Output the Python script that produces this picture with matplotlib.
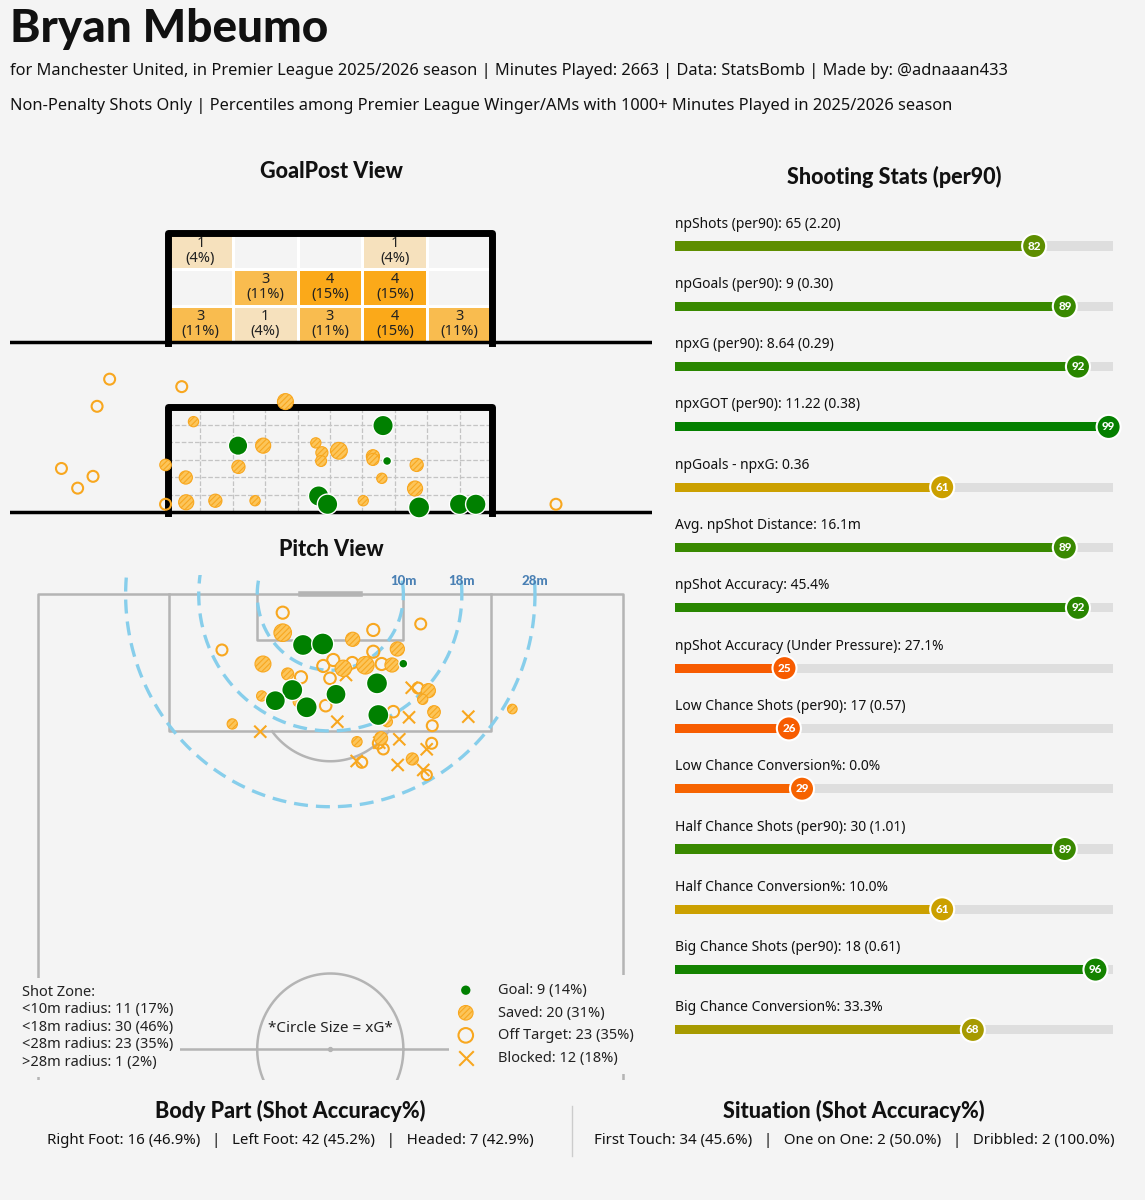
import matplotlib
matplotlib.use('Agg')
import matplotlib.pyplot as plt
import numpy as np
from matplotlib.colors import LinearSegmentedColormap
from matplotlib.lines import Line2D

# ---------------- DATA ----------------
player = "Bryan Mbeumo"
subtitle1 = ("for Manchester United, in Premier League 2025/2026 season | Minutes Played: 2663 | "
             "Data: StatsBomb | Made by: @adnaaan433")
subtitle2 = ("Non-Penalty Shots Only | Percentiles among Premier League Winger/AMs with 1000+ "
             "Minutes Played in 2025/2026 season")

# goal-mouth heatmap (rows: top, middle, bottom ; cols: left -> right)
goal_counts = [[1, 0, 0, 1, 0],
               [0, 3, 4, 4, 0],
               [3, 1, 3, 4, 3]]

# shots on the goal-mouth view (goal y: 36-44, height z: 0-2.67)
gm_goal_y = [37.73, 39.72, 39.94, 41.31, 41.41, 42.20, 43.20, 43.60]
gm_goal_z = [1.69, 0.41, 0.20, 2.20, 1.30, 0.12, 0.20, 0.20]
gm_goal_xg = [0.25, 0.28, 0.28, 0.28, 0.03, 0.30, 0.28, 0.28]

gm_saved_y = [38.90, 36.63, 38.35, 35.94, 37.74, 36.44, 36.45, 37.17, 38.15, 39.65,
              39.80, 39.78, 40.22, 41.06, 41.06, 42.14, 41.28, 42.10, 40.82]
gm_saved_z = [2.81, 2.30, 1.69, 1.20, 1.15, 0.88, 0.25, 0.29, 0.29, 1.76,
              1.51, 1.30, 1.56, 1.42, 1.34, 1.20, 0.86, 0.60, 0.29]
gm_saved_xg = [0.16, 0.05, 0.14, 0.07, 0.10, 0.10, 0.14, 0.10, 0.05, 0.05,
               0.08, 0.06, 0.18, 0.10, 0.08, 0.10, 0.05, 0.14, 0.05]

gm_off_y = [34.56, 36.34, 34.25, 33.37, 34.15, 33.77, 35.94, 45.58]
gm_off_z = [3.38, 3.19, 2.69, 1.11, 0.91, 0.61, 0.20, 0.20]
gm_off_xg = [0.06, 0.06, 0.06, 0.06, 0.06, 0.06, 0.06, 0.06]

# shots on the pitch (StatsBomb coords: x across 0-80, y along 0-120)
p_goal_x = [36.27, 38.96, 49.99, 46.39, 34.80, 40.78, 32.48, 36.77, 46.57]
p_goal_y = [113.34, 113.47, 110.87, 108.28, 107.40, 106.83, 105.99, 105.12, 104.10]
p_goal_xg = [0.30, 0.33, 0.03, 0.30, 0.30, 0.27, 0.27, 0.30, 0.30]

p_saved_x = [33.49, 43.06, 49.17, 30.79, 41.78, 44.79, 48.44, 34.17, 30.62, 53.41,
             52.64, 54.19, 47.80, 26.59, 43.65, 46.94, 51.22, 64.90, 35.62]
p_saved_y = [114.96, 114.09, 112.81, 110.83, 110.26, 110.66, 110.70, 109.51, 106.61, 107.31,
             106.17, 104.50, 103.22, 102.92, 100.58, 101.03, 98.30, 104.89, 105.86]
p_saved_xg = [0.20, 0.12, 0.12, 0.16, 0.17, 0.20, 0.12, 0.08, 0.05, 0.12,
              0.05, 0.09, 0.05, 0.05, 0.05, 0.10, 0.08, 0.04, 0.05]

p_off_x = [33.49, 45.88, 52.37, 25.18, 45.88, 39.04, 40.41, 43.01, 47.03, 35.99,
           39.96, 39.37, 48.62, 53.95, 53.87, 46.57, 47.25, 44.30, 53.19, 52.00]
p_off_y = [117.60, 115.32, 116.11, 112.68, 112.45, 110.57, 111.36, 111.00, 110.83, 109.08,
           108.94, 105.33, 104.54, 102.69, 100.37, 100.37, 99.62, 97.86, 96.19, 107.66]
p_off_xg = [0.08, 0.08, 0.06, 0.06, 0.08, 0.08, 0.08, 0.07, 0.08, 0.08,
            0.07, 0.07, 0.07, 0.06, 0.06, 0.06, 0.06, 0.06, 0.05, 0.06]

p_block_x = [42.15, 51.14, 50.77, 58.88, 40.96, 30.42, 49.44, 46.70, 53.19, 43.61, 49.22, 52.72]
p_block_y = [109.38, 107.70, 103.80, 103.88, 103.22, 101.90, 100.90, 100.45, 99.58, 98.03, 97.51, 96.85]
p_block_xg = [0.08] * 12

zone_radii = [10, 18, 28]
zone_text = ["Shot Zone:", "<10m radius: 11 (17%)", "<18m radius: 30 (46%)",
             "<28m radius: 23 (35%)", ">28m radius: 1 (2%)"]
legend_labels = ["Goal: 9 (14%)", "Saved: 20 (31%)", "Off Target: 23 (35%)", "Blocked: 12 (18%)"]

stat_labels = ["npShots (per90): 65 (2.20)", "npGoals (per90): 9 (0.30)",
               "npxG (per90): 8.64 (0.29)", "npxGOT (per90): 11.22 (0.38)",
               "npGoals - npxG: 0.36", "Avg. npShot Distance: 16.1m",
               "npShot Accuracy: 45.4%", "npShot Accuracy (Under Pressure): 27.1%",
               "Low Chance Shots (per90): 17 (0.57)", "Low Chance Conversion%: 0.0%",
               "Half Chance Shots (per90): 30 (1.01)", "Half Chance Conversion%: 10.0%",
               "Big Chance Shots (per90): 18 (0.61)", "Big Chance Conversion%: 33.3%"]
stat_pcts = [82, 89, 92, 99, 61, 89, 92, 25, 26, 29, 89, 61, 96, 68]

body_text = "Right Foot: 16 (46.9%)   |   Left Foot: 42 (45.2%)   |   Headed: 7 (42.9%)"
situ_text = "First Touch: 34 (45.6%)   |   One on One: 2 (50.0%)   |   Dribbled: 2 (100.0%)"

# ---------------- STYLE ----------------
W, H = 1145, 1200
BG = '#f4f4f4'
TFONT = 'Lato'
BFONT = 'Noto Sans'
ORANGE = '#f8a71f'
SAVED_FC = '#fcc55a'
GREEN = '#008000'
plt.rcParams['font.family'] = [BFONT, 'DejaVu Sans']
plt.rcParams['hatch.linewidth'] = 0.8

fig = plt.figure(figsize=(W / 100, H / 100), dpi=100, facecolor=BG)


def fy(y):
    return 1 - y / H


def add_ax(x0, y0, x1, y1):
    ax = fig.add_axes([x0 / W, 1 - y1 / H, (x1 - x0) / W, (y1 - y0) / H])
    ax.set_facecolor('none')
    ax.axis('off')
    return ax


def xg_size(v):
    return 20 + 700 * np.asarray(v)


# ---------------- HEADER ----------------
fig.text(10 / W, fy(29), player, fontsize=33, fontweight='black', family=TFONT,
         va='center', ha='left', color='#111111')
fig.text(10 / W, fy(71), subtitle1, fontsize=11.8, va='center', ha='left', color='#111111')
fig.text(10 / W, fy(106), subtitle2, fontsize=11.8, va='center', ha='left', color='#111111')

for txt, x, y in [("GoalPost View", 331, 172), ("Pitch View", 331, 550),
                  ("Shooting Stats (per90)", 894, 177),
                  ("Body Part (Shot Accuracy%)", 290, 1111),
                  ("Situation (Shot Accuracy%)", 854, 1111)]:
    fig.text(x / W, fy(y), txt, fontsize=15.5, fontweight='black', family=TFONT,
             ha='center', va='center', color='#111111')

# ---------------- GOAL HEATMAP ----------------
XL = (32.10, 47.95)
ax1 = add_ax(10, 215, 652, 350)
ax1.set_xlim(*XL)
ax1.set_ylim(-0.195, 3.10)
counts = np.array(goal_counts)
total = counts.sum()
cmap_h = LinearSegmentedColormap.from_list('h', [BG, '#fba919'])
xe = np.linspace(36, 44, counts.shape[1] + 1)
ze = np.linspace(0, 2.67, counts.shape[0] + 1)
ax1.pcolormesh(xe, ze, counts[::-1], cmap=cmap_h, vmin=0, vmax=counts.max(),
               edgecolors='white', linewidth=0.8, zorder=1)
for r in range(counts.shape[0]):
    for c in range(counts.shape[1]):
        v = counts[r, c]
        if v > 0:
            zc = (ze[counts.shape[0] - r] + ze[counts.shape[0] - r - 1]) / 2
            xc = (xe[c] + xe[c + 1]) / 2
            ax1.text(xc, zc, f"{v}\n({v / total * 100:.0f}%)", ha='center', va='center',
                     fontsize=10.5, color='#222222', linespacing=1.0, zorder=3)
ax1.plot([36, 36, 44, 44], [-0.03, 2.67, 2.67, -0.03], color='black', lw=5,
         solid_joinstyle='round', zorder=4)
ax1.plot(XL, [0, 0], color='black', lw=2.5, zorder=4)

# ---------------- GOAL SHOT MAP ----------------
ax2 = add_ax(10, 365, 652, 520)
ax2.set_xlim(*XL)
ax2.set_ylim(-0.20, 3.74)
for k in range(1, 10):
    ax2.plot([36 + 0.8 * k] * 2, [0, 2.67], ls='--', color='#c4c4c4', lw=0.9, zorder=1)
for k in range(1, 6):
    ax2.plot([36, 44], [k * 2.67 / 6] * 2, ls='--', color='#c4c4c4', lw=0.9, zorder=1)
ax2.plot([36, 36, 44, 44], [-0.03, 2.67, 2.67, -0.03], color='black', lw=5,
         solid_joinstyle='round', zorder=2)
ax2.plot(XL, [0, 0], color='black', lw=2.5, zorder=2)
ax2.scatter(gm_off_y, gm_off_z, s=xg_size(gm_off_xg), facecolor='none', edgecolor=ORANGE,
            lw=1.5, zorder=3)
ax2.scatter(gm_saved_y, gm_saved_z, s=xg_size(gm_saved_xg), facecolor=SAVED_FC,
            edgecolor=ORANGE, hatch='//////', lw=0.8, zorder=4)
ax2.scatter(gm_goal_y, gm_goal_z, s=xg_size(gm_goal_xg), facecolor=GREEN,
            edgecolor='white', lw=1.0, zorder=5)

# ---------------- PITCH ----------------
ax3 = add_ax(10, 575, 652, 1080)
ax3.set_xlim(-3.817, 84.01)
ax3.set_ylim(55.95, 122.57)
LC = '#b4b4b4'
LW = 1.8
ax3.plot([0, 0, 80, 80], [40, 120, 120, 40], color=LC, lw=LW, zorder=1)
ax3.plot([0, 80], [60, 60], color=LC, lw=LW, zorder=1)
ax3.plot([18, 18, 62, 62], [120, 102, 102, 120], color=LC, lw=LW, zorder=1)
ax3.plot([30, 30, 50, 50], [120, 114, 114, 120], color=LC, lw=LW, zorder=1)
ax3.plot([36, 44], [120, 120], color=LC, lw=4, zorder=1)
t = np.linspace(0, 2 * np.pi, 400)
cx, cy = 40 + 10 * np.cos(t), 108 + 10 * np.sin(t)
mask = cy <= 102
order = np.argsort(cx[mask])
ax3.plot(cx[mask][order], cy[mask][order], color=LC, lw=LW, zorder=1)
ax3.plot(40 + 10 * np.cos(t), 60 + 10 * np.sin(t), color=LC, lw=LW, zorder=1)
ax3.scatter([40], [60], s=8, color=LC, zorder=1)
for r in zone_radii:
    ax3.plot(40 + r * np.cos(t), 120 + r * np.sin(t), color='#87ceeb', lw=2.4,
             ls=(0, (4.2, 2.4)), zorder=2)
    ax3.text(40 + r, 121.8, f"{r}m", color='#4a80b4', fontsize=9.5, fontweight='black',
             family=TFONT, ha='center', va='center', zorder=2)
ax3.scatter(p_off_x, p_off_y, s=xg_size(p_off_xg), facecolor='none',
            edgecolor=ORANGE, lw=1.5, zorder=3)
ax3.scatter(p_block_x, p_block_y, s=xg_size(p_block_xg), marker='x', color=ORANGE,
            lw=1.5, zorder=4)
ax3.scatter(p_saved_x, p_saved_y, s=xg_size(p_saved_xg), facecolor=SAVED_FC,
            edgecolor=ORANGE, hatch='//////', lw=0.8, zorder=4)
ax3.scatter(p_goal_x, p_goal_y, s=xg_size(p_goal_xg), facecolor=GREEN,
            edgecolor='white', lw=1.0, zorder=5)

ax3.text(40, 62.8, "*Circle Size = xG*", ha='center', va='center', fontsize=11,
         color='#222222', zorder=6)
fig.text(22 / W, fy(985), "\n".join(zone_text), ha='left', va='top', fontsize=10.5,
         linespacing=1.22, color='#222222',
         bbox=dict(facecolor=BG, edgecolor='none', pad=5), zorder=10)

lg_goal = ax3.scatter([], [], s=45, facecolor=GREEN, edgecolor='none')
lg_sav = ax3.scatter([], [], s=110, facecolor=SAVED_FC, edgecolor=ORANGE, hatch='//////', lw=0.8)
lg_off = ax3.scatter([], [], s=110, facecolor='none', edgecolor=ORANGE, lw=1.5)
lg_blk = ax3.scatter([], [], s=110, marker='x', color=ORANGE, lw=1.5)
leg = fig.legend([lg_goal, lg_sav, lg_off, lg_blk], legend_labels, loc='upper left',
                 bbox_to_anchor=(449 / W, fy(975)), borderaxespad=0, borderpad=0.55,
                 handlelength=1.2, handletextpad=1.6, labelspacing=0.52, fontsize=10.5,
                 frameon=True, facecolor=BG, edgecolor='none', framealpha=1,
                 scatterpoints=1)
leg.set_zorder(10)
for txt in leg.get_texts():
    txt.set_color('#222222')

# ---------------- STAT BARS ----------------
ax4 = add_ax(675, 200, 1113, 1050)
ax4.set_xlim(0, 100)
ax4.set_ylim(13.333, -0.763)
cmap_p = LinearSegmentedColormap.from_list(
    'p', [(0.0, (1.0, 0.16, 0.0)), (0.5, (0.94, 0.55, 0.0)),
          (0.6, (0.82, 0.63, 0.0)), (1.0, (0.0, 0.5, 0.0))])
ypos = np.arange(len(stat_pcts))
cols = [cmap_p(p / 100) for p in stat_pcts]
ax4.barh(ypos, [100] * len(ypos), height=0.15, color='#dedede', zorder=1)
ax4.barh(ypos, stat_pcts, height=0.15, color=cols, zorder=2)
ax4.scatter(stat_pcts, ypos, s=300, c=cols, edgecolor='white', lw=1.5, zorder=3, clip_on=False)
for i, (lab, p) in enumerate(zip(stat_labels, stat_pcts)):
    ax4.text(0, i - 22 / 60.3, lab, ha='left', va='center', fontsize=10, color='#111111')
    ax4.text(p, i, str(p), ha='center', va='center', fontsize=8.5, fontweight='black',
             family=TFONT, color='white', zorder=4)

# ---------------- FOOTER ----------------
fig.text(290 / W, fy(1141), body_text, ha='center', va='center', fontsize=10.8, color='#111111')
fig.text(854 / W, fy(1141), situ_text, ha='center', va='center', fontsize=10.8, color='#111111')
fig.add_artist(Line2D([572 / W, 572 / W], [fy(1106), fy(1156)], transform=fig.transFigure,
                      color='#cccccc', lw=1))

fig.savefig('out.png', dpi=100, facecolor=BG)
